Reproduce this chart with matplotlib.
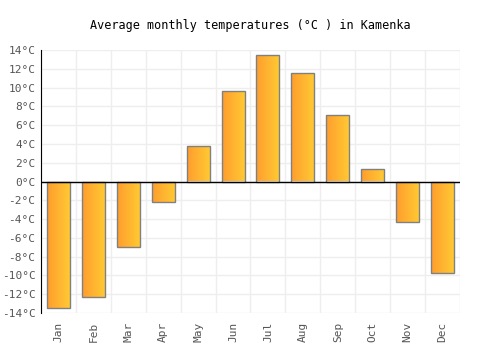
import numpy as np
import matplotlib
matplotlib.use("Agg")
import matplotlib.pyplot as plt
from matplotlib.colors import LinearSegmentedColormap

months = ["Jan", "Feb", "Mar", "Apr", "May", "Jun",
          "Jul", "Aug", "Sep", "Oct", "Nov", "Dec"]
temps = [-13.5, -12.3, -7.0, -2.2, 3.8, 9.6, 13.5, 11.5, 7.1, 1.3, -4.3, -9.7]
yticks = list(range(-14, 15, 2))

plt.rcParams["font.family"] = ["DejaVu Sans Mono"]

fig = plt.figure(figsize=(5, 3.5), dpi=100)
ax = fig.add_axes([41 / 500, 37 / 350, 419 / 500, 263 / 350])

x = np.arange(len(months))
width = 0.66
cmap = LinearSegmentedColormap.from_list("bar", ["#ff9d2e", "#ffcb33"])
grad = np.linspace(0, 1, 64).reshape(1, -1)

bars = ax.bar(x, temps, width=width, facecolor="none", edgecolor="#808080",
              linewidth=1.0, zorder=3)
for b in bars:
    x0, y0 = b.get_x(), b.get_y()
    w, h = b.get_width(), b.get_height()
    im = ax.imshow(grad, cmap=cmap, aspect="auto", zorder=2,
                   extent=[x0, x0 + w, min(y0, y0 + h), max(y0, y0 + h)])
    im.set_clip_path(b)

ax.set_xlim(-0.5, len(months) - 0.5)
ax.set_ylim(-14, 14)
ax.set_yticks(yticks)
ax.set_yticklabels([f"{t}°C" for t in yticks])
ax.set_xticks(x)
ax.set_xticklabels(months, rotation=90)
ax.set_xticks(np.arange(-0.5, len(months), 1), minor=True)
ax.tick_params(axis="x", which="both", length=0, colors="#555555", labelsize=8, pad=6)
ax.tick_params(axis="y", length=0, colors="#555555", labelsize=8, pad=4)

ax.grid(True, axis="y", color="#eeeeee", linewidth=1, zorder=0)
ax.grid(True, axis="x", which="minor", color="#eeeeee", linewidth=1, zorder=0)
ax.set_axisbelow(True)

for s in ["top", "right", "bottom"]:
    ax.spines[s].set_visible(False)
ax.spines["left"].set_color("black")
ax.axhline(0, color="black", linewidth=1, zorder=4)

fig.text(0.5, 1 - 25 / 350, "Average monthly temperatures (°C ) in Kamenka",
         ha="center", va="center", fontsize=8.5, color="black")

fig.savefig("out.png", dpi=100)
